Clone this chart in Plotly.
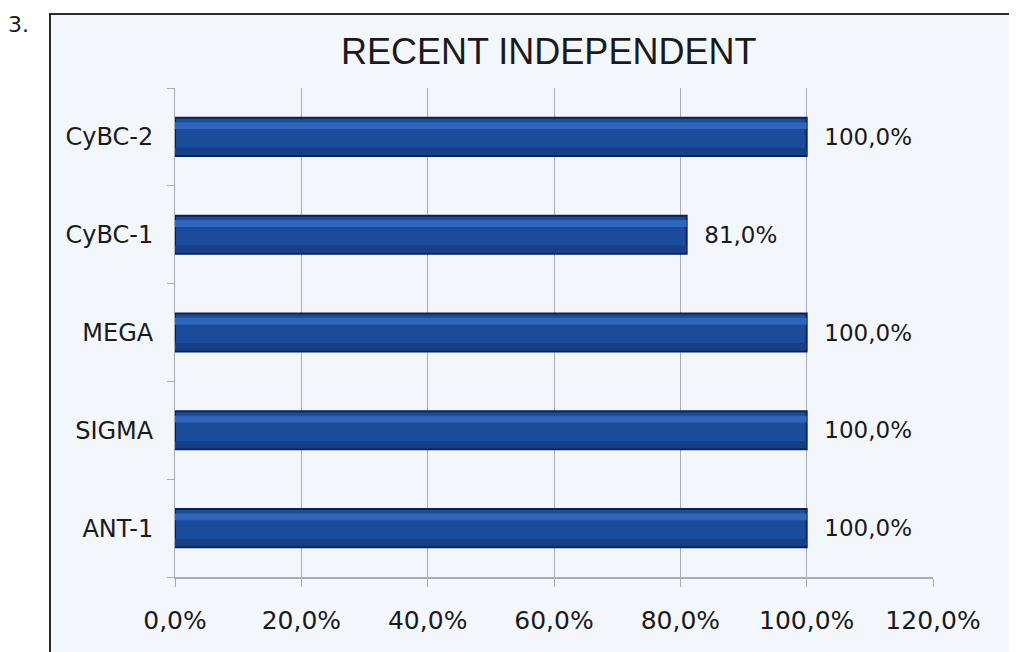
import plotly.graph_objects as go

categories = ["ANT-1", "SIGMA", "MEGA", "CyBC-1", "CyBC-2"]
values = [1.00, 1.00, 1.00, 0.81, 1.00]
x_ticks = [0, 0.2, 0.4, 0.6, 0.8, 1.0, 1.2]
title_text = "RECENT INDEPENDENT"

W, H = 1017, 652
OFF = 8  # page body offset
L, R, T, B = 175 - OFF, 84 + OFF, 88 - OFF, 75 + OFF
pw, ph = W - L - R, H - T - B

def px_x(p):
    return (p - OFF - L) / pw

def px_y(p):
    return (H - B - (p - OFF)) / ph

fig = go.Figure()
fig.add_trace(go.Bar(
    y=categories, x=values, orientation="h",
    width=0.39,
    marker=dict(color="#1b4c9c", line=dict(color="#0a2259", width=2)),
    texttemplate="\u00a0\u00a0%{x:.1%}", textposition="outside",
    textfont=dict(family="DejaVu Sans", size=23, color="#1a1a1a"),
    cliponaxis=False, hoverinfo="skip",
))
fig.add_trace(go.Bar(
    y=categories, x=values, orientation="h",
    width=0.07, offset=0.08,
    marker=dict(color="#2f66bb", line=dict(width=0)),
    hoverinfo="skip",
))
fig.add_trace(go.Bar(
    y=categories, x=values, orientation="h",
    width=0.07, offset=-0.18,
    marker=dict(color="#163f85", line=dict(width=0)),
    hoverinfo="skip",
))

fig.update_layout(
    width=W, height=H,
    margin=dict(l=L, r=R, t=T, b=B),
    separators=",.",
    barmode="overlay",
    paper_bgcolor="white",
    plot_bgcolor="#f3f7fb",
    showlegend=False,
    font=dict(family="DejaVu Sans", color="#1a1a1a"),
    xaxis=dict(
        range=[0, 1.2], tickvals=x_ticks, tickformat=".1%",
        showgrid=True, gridcolor="#a9adb2", gridwidth=1,
        showline=True, linecolor="#a9adb2", linewidth=2,
        ticks="outside", ticklen=8, tickcolor="#a9adb2",
        tickfont=dict(size=25), ticklabelstandoff=12,
        zeroline=False, fixedrange=True,
    ),
    yaxis=dict(
        showline=True, linecolor="#a9adb2", linewidth=1,
        ticks="outside", ticklen=7, tickcolor="#a9adb2",
        tickson="boundaries", showgrid=False,
        tickfont=dict(size=24), ticklabelstandoff=16,
        fixedrange=True,
    ),
    shapes=[dict(
        type="rect", xref="paper", yref="paper",
        x0=px_x(50), x1=px_x(1040), y0=px_y(680), y1=px_y(14),
        line=dict(color="#2a2a2a", width=2), fillcolor="#f3f7fb",
        layer="below",
    )],
    annotations=[
        dict(text=title_text, xref="paper", yref="paper",
             x=px_x(548), y=px_y(52), showarrow=False,
             font=dict(family="Liberation Sans", size=36, color="#1a1a1a"),
             xanchor="center", yanchor="middle"),
        dict(text="3.", xref="paper", yref="paper",
             x=px_x(18), y=px_y(24), showarrow=False,
             font=dict(size=22, color="#1a1a1a"), xanchor="center", yanchor="middle"),
    ],
)

fig.write_html("out.html")
